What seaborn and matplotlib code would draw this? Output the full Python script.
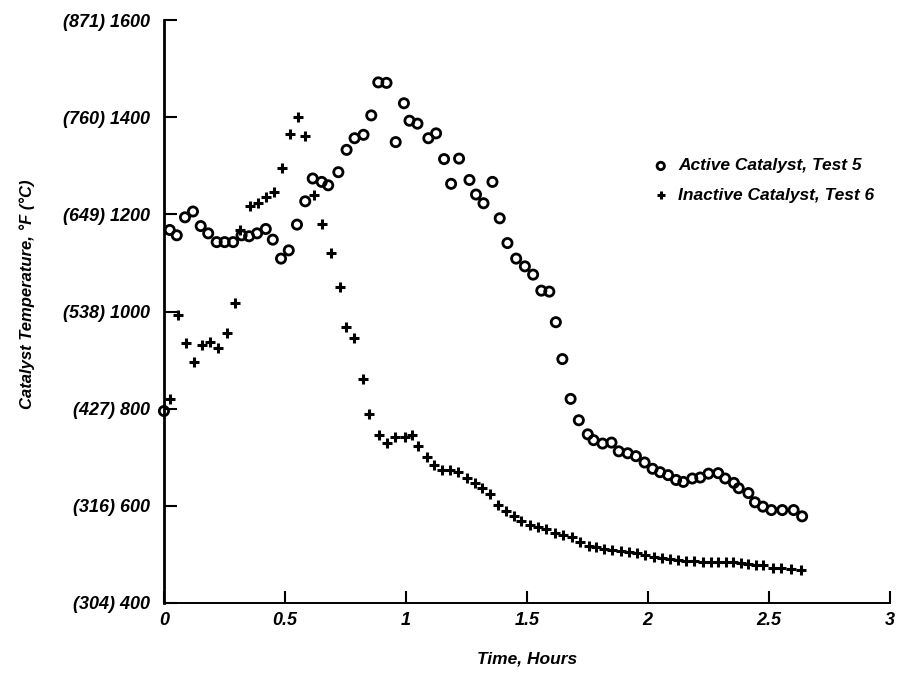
import matplotlib
matplotlib.use("Agg")
import matplotlib.pyplot as plt
import seaborn as sns
import pandas as pd

# Active catalyst, Test 5 (circles)
active_hours = [0.0, 0.024, 0.053, 0.087, 0.120, 0.152, 0.183, 0.218, 0.251, 0.286,
                0.321, 0.352, 0.385, 0.421, 0.450, 0.484, 0.516, 0.550, 0.584, 0.615,
                0.652, 0.679, 0.721, 0.755, 0.788, 0.825, 0.857, 0.886, 0.920, 0.958,
                0.992, 1.015, 1.048, 1.093, 1.125, 1.158, 1.187, 1.220, 1.263, 1.290,
                1.321, 1.358, 1.388, 1.420, 1.456, 1.492, 1.526, 1.560, 1.593, 1.620,
                1.647, 1.681, 1.715, 1.752, 1.776, 1.813, 1.850, 1.880, 1.917, 1.951,
                1.987, 2.020, 2.051, 2.084, 2.117, 2.147, 2.184, 2.217, 2.251, 2.291,
                2.320, 2.356, 2.376, 2.416, 2.443, 2.476, 2.511, 2.556, 2.603, 2.638]
active_temp = [795, 1168, 1157, 1194, 1206, 1176, 1161, 1143, 1143, 1143,
               1157, 1155, 1161, 1170, 1148, 1109, 1126, 1179, 1227, 1274,
               1267, 1260, 1287, 1333, 1357, 1364, 1404, 1472, 1471, 1349,
               1429, 1393, 1387, 1357, 1367, 1314, 1263, 1315, 1271, 1241,
               1223, 1267, 1192, 1141, 1109, 1093, 1076, 1043, 1041, 978,
               902, 820, 776, 747, 735, 728, 730, 712, 708, 702,
               689, 676, 669, 663, 653, 649, 656, 658, 666, 667,
               656, 647, 636, 626, 607, 598, 591, 591, 591, 578]

# Inactive catalyst, Test 6 (crosses)
inactive_hours = [0.027, 0.057, 0.090, 0.123, 0.156, 0.192, 0.222, 0.259, 0.292, 0.315,
                  0.357, 0.388, 0.421, 0.454, 0.489, 0.523, 0.554, 0.585, 0.619, 0.653,
                  0.690, 0.726, 0.752, 0.787, 0.821, 0.848, 0.889, 0.920, 0.954, 0.995,
                  1.025, 1.052, 1.086, 1.118, 1.149, 1.183, 1.217, 1.254, 1.284, 1.313,
                  1.348, 1.380, 1.415, 1.445, 1.476, 1.515, 1.546, 1.580, 1.618, 1.650,
                  1.686, 1.720, 1.756, 1.788, 1.821, 1.854, 1.888, 1.922, 1.957, 1.989,
                  2.027, 2.060, 2.093, 2.127, 2.160, 2.193, 2.227, 2.260, 2.291, 2.324,
                  2.353, 2.384, 2.416, 2.447, 2.477, 2.516, 2.552, 2.590, 2.635]
inactive_temp = [819, 993, 935, 895, 930, 938, 925, 955, 1017, 1167,
                 1218, 1224, 1235, 1247, 1296, 1365, 1400, 1362, 1239, 1180,
                 1120, 1050, 969, 945, 860, 788, 746, 729, 742, 742,
                 745, 722, 700, 683, 674, 674, 670, 657, 647, 637,
                 624, 602, 589, 578, 568, 561, 556, 551, 544, 539,
                 535, 526, 517, 515, 510, 508, 506, 504, 502, 499,
                 495, 492, 490, 488, 487, 487, 485, 485, 485, 485,
                 483, 481, 479, 477, 477, 472, 472, 470, 468]

y_ticks = [400, 600, 800, 1000, 1200, 1400, 1600]
y_tick_labels = ["(304) 400", "(316) 600", "(427) 800", "(538) 1000",
                 "(649) 1200", "(760) 1400", "(871) 1600"]
x_ticks = [0, 0.5, 1, 1.5, 2, 2.5, 3]
x_tick_labels = ["0", "0.5", "1", "1.5", "2", "2.5", "3"]

active = pd.DataFrame({"hours": active_hours, "temp": active_temp})
inactive = pd.DataFrame({"hours": inactive_hours, "temp": inactive_temp})

sns.set_style("ticks")
plt.rcParams["font.family"] = ["Liberation Sans", "DejaVu Sans"]
plt.rcParams["font.style"] = "italic"
plt.rcParams["font.weight"] = "bold"
plt.rcParams["axes.labelweight"] = "bold"
plt.rcParams["text.color"] = "black"
plt.rcParams["axes.labelcolor"] = "black"

fig, ax = plt.subplots(figsize=(9.21, 6.75), dpi=100)
fig.subplots_adjust(left=0.178, right=0.966, bottom=0.107, top=0.970)

sns.scatterplot(data=active, x="hours", y="temp", ax=ax, marker="o", s=44,
                color="black", linewidth=2.0, label="Active Catalyst, Test 5",
                clip_on=False, zorder=3)
circles = ax.collections[-1]
circles.set_facecolor("none")
circles.set_edgecolor("black")

sns.scatterplot(data=inactive, x="hours", y="temp", ax=ax, marker="+", s=62,
                color="black", linewidth=2.2, label="Inactive Catalyst, Test 6",
                clip_on=False, zorder=3)

ax.set_xlim(0, 3)
ax.set_ylim(400, 1600)
ax.set_xticks(x_ticks)
ax.set_xticklabels(x_tick_labels)
ax.set_yticks(y_ticks)
ax.set_yticklabels(y_tick_labels)
ax.tick_params(axis="both", direction="in", length=9, width=1.5, labelsize=13,
               colors="black")
ax.tick_params(axis="y", pad=10)
ax.tick_params(axis="x", pad=7)

sns.despine(ax=ax)
ax.spines["left"].set_linewidth(2.0)
ax.spines["left"].set_color("black")
ax.spines["bottom"].set_linewidth(1.4)
ax.spines["bottom"].set_color("black")

ax.set_xlabel("Time, Hours", fontsize=12.5)
ax.set_ylabel("Catalyst Temperature, °F (°C)", fontsize=12)
ax.xaxis.set_label_coords(0.5, -0.083)
ax.yaxis.set_label_coords(-0.178, 0.53)

ax.legend(loc="center left", bbox_to_anchor=(0.675, 0.725), frameon=False,
          fontsize=12.5, handlelength=0.8, handletextpad=0.6, labelspacing=0.8,
          borderpad=0, borderaxespad=0, markerscale=0.8)

fig.savefig("out.png", dpi=100)
